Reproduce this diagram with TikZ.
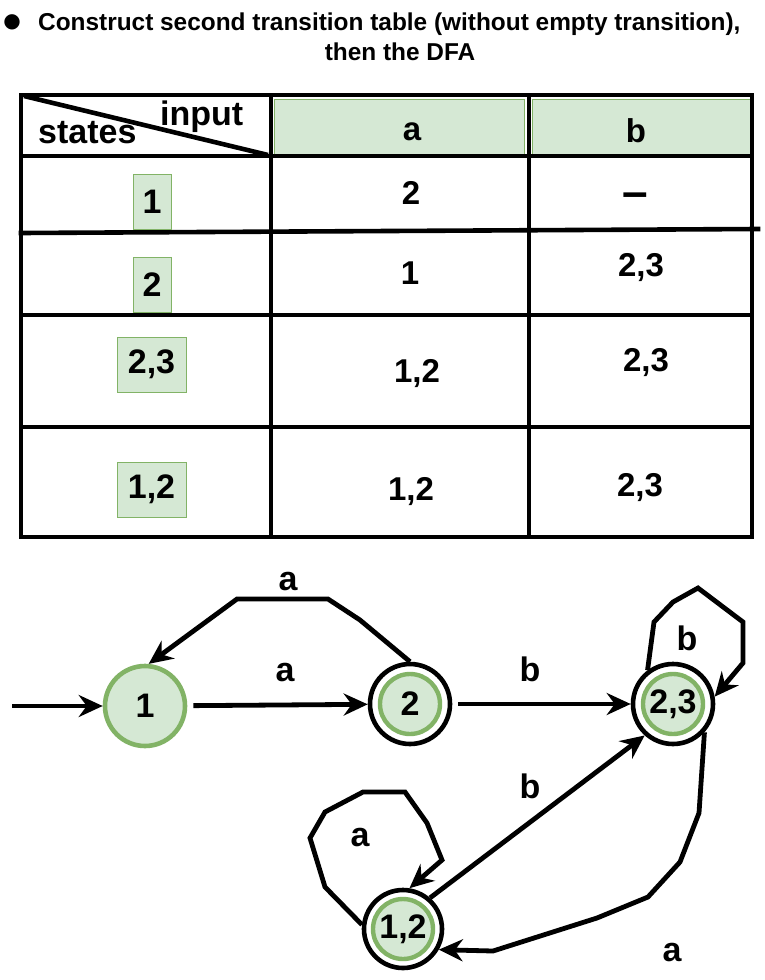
\documentclass[tikz,border=0pt]{standalone}
\usepackage{fontspec}
\setmainfont{Liberation Sans}
\newfontfamily\symfont{DejaVu Sans}
\usetikzlibrary{arrows.meta}
\definecolor{cellgreen}{HTML}{D5E8D4}
\definecolor{ringgreen}{HTML}{82B366}
\newcommand\fsz[1]{\fontsize{#1}{#1}\selectfont\bfseries}

\begin{document}
\begin{tikzpicture}[x=1pt,y=-1pt,
  grid/.style={line width=4.6pt, line cap=rect},
  hdr/.style={fill=cellgreen, draw=ringgreen, line width=0.8pt},
  cellval/.style={font=\fsz{33}, inner sep=0pt},
  statebox/.style={hdr, minimum height=55pt, inner sep=0pt, font=\fsz{34}},
  state/.style={circle, minimum size=80pt, line width=4.6pt, inner sep=0pt, font=\fsz{34}},
  plainstate/.style={state, draw=ringgreen, fill=cellgreen},
  accstate/.style={state, draw=black, fill=white,
    path picture={\draw[ringgreen, fill=cellgreen, line width=4.4pt]
      (path picture bounding box.center) circle (30pt);}},
  edge/.style={line width=4.8pt, line join=miter,
    -{Stealth[length=24pt,width=22pt,inset=8pt]}},
  elabel/.style={font=\fsz{34}, inner sep=1pt}
]
\useasboundingbox (0,0) rectangle (764,980);

% ---- heading ----
\node[font=\symfont\fontsize{20}{20}\selectfont, inner sep=0pt] (bul) at (12,22) {●};
\node[anchor=base west, font=\fsz{24.4}, inner sep=0pt] (t1) at (38,30)
  {Construct second transition table (without empty transition),};
\node[anchor=base, font=\fsz{24.4}, inner sep=0pt] (t2) at (400,60) {then the DFA};

% ---- transition table ----
\draw[hdr] (274,99) rectangle (524,154);
\draw[hdr] (532,99) rectangle (751,154);
\draw[grid] (21,95) rectangle (752,537);
\draw[grid] (271,95) -- (271,537);
\draw[grid] (529,95) -- (529,537);
\draw[grid] (21,156) -- (752,156);
\draw[grid] (21,233) -- (758,229);
\draw[grid] (21,315) -- (752,315);
\draw[grid] (21,427) -- (752,427);
\draw[line width=4.6pt] (24,96) -- (268,155);

\node[anchor=base west, font=\fsz{34}, inner sep=0pt] (hs) at (38,143) {states};
\node[anchor=base west, font=\fsz{34}, inner sep=0pt] (hi) at (160,125) {input};
\node[cellval] (ha) at (412,132) {a};
\node[cellval] (hb) at (636,131) {b};

\node[statebox, minimum width=38pt] (r1) at (152,201.5) {1};
\node[statebox, minimum width=38pt] (r2) at (152,284.5) {2};
\node[statebox, minimum width=69pt] (r3) at (151.5,364.5) {2,3};
\node[statebox, minimum width=69pt] (r4) at (151.5,489.5) {1,2};

\node[cellval] (c1a) at (411,193) {2};
\node[font=\fsz{46}, inner sep=0pt] (c1b) at (635,200) {–};
\node[cellval] (c2a) at (410,273) {1};
\node[cellval] (c2b) at (641,268) {2,3};
\node[cellval] (c3a) at (417,374) {1,2};
\node[cellval] (c3b) at (646,363) {2,3};
\node[cellval] (c4a) at (411,492) {1,2};
\node[cellval] (c4b) at (640,488) {2,3};

% ---- automaton ----
\node[plainstate] (s1) at (145,706) {1};
\node[accstate] (s2) at (410,704) {2};
\node[accstate] (s23) at (673,704) {2,3};
\node[accstate, minimum size=78pt] (s12) at (403,929) {1,2};

\coordinate (init) at (12,706);
\draw[edge] (init) -- (s1);

\draw[edge, shorten <=6pt] (s1) -- (s2);
\node[elabel] (l12) at (285,673) {a};

\draw[edge] (s2.90) -- (360,620) -- (328,599) -- (237,599) -- (s1.85);
\node[elabel] (l21) at (288,582) {a};

\draw[edge, shorten <=6pt] (s2) -- (s23);
\node[elabel] (l223) at (530,669) {b};

\draw[edge] (s23.127) -- (654,622) -- (673,602) -- (698,588) -- (743,622)
  -- (743,663) -- (s23.10);
\node[elabel] (l2323) at (687,638) {b};

\draw[edge] (s12.49) -- (s23.228);
\node[elabel] (l1223) at (530,786) {b};

\draw[edge] (s23.-42) -- (699,813) -- (680,862) -- (648,897) -- (597,918)
  -- (493,951) -- (s12.-30);
\node[elabel] (l2312) at (672,953) {a};

\draw[edge] (s12.174) -- (325,887) -- (310,838) -- (325,812) -- (363,792)
  -- (405,792) -- (427,823) -- (442,860) -- (s12.81);
\node[elabel] (l1212) at (360,838) {a};
\end{tikzpicture}
\end{document}
